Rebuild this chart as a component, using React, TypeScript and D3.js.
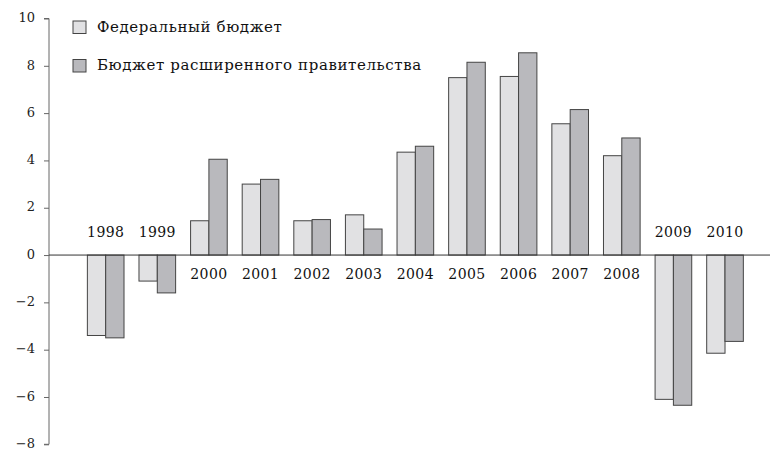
import React, { useEffect, useRef } from 'react';
import * as d3 from 'd3';

const years = ['1998', '1999', '2000', '2001', '2002', '2003', '2004', '2005', '2006', '2007', '2008', '2009', '2010'];
const federal = [-3.4, -1.1, 1.45, 3.0, 1.45, 1.7, 4.35, 7.5, 7.55, 5.55, 4.2, -6.1, -4.15];
const general = [-3.5, -1.6, 4.05, 3.2, 1.5, 1.1, 4.6, 8.15, 8.55, 6.15, 4.95, -6.35, -3.65];
const seriesNames = ['Федеральный бюджет', 'Бюджет расширенного правительства'];
const seriesColors = ['#e1e1e3', '#b9b9bd'];
const yTicks = [-8, -6, -4, -2, 0, 2, 4, 6, 8, 10];

const FONT = '"DejaVu Serif", serif';

const App: React.FC = () => {
  const svgRef = useRef<SVGSVGElement>(null);

  useEffect(() => {
    if (!svgRef.current) return;
    const svg = d3.select(svgRef.current);
    svg.selectAll('*').remove();

    const axisX = 49;
    const y = d3.scaleLinear().domain([-8, 10]).range([444.3, 18.5]);

    const x = d3.scaleBand<string>()
      .domain(years)
      .range([axisX, 770])
      .paddingInner(0.29)
      .paddingOuter(0.63)
      .align(0.59);

    const x1 = d3.scaleBand<number>()
      .domain([0, 1])
      .range([0, x.bandwidth()]);

    // y axis
    const yAxis = d3.axisLeft(y)
      .tickValues(yTicks)
      .tickSize(5)
      .tickPadding(9)
      .tickFormat((d: any) => (d < 0 ? '\u2212' + Math.abs(d) : String(d)));

    const ga = svg.append('g')
      .attr('transform', `translate(${axisX},0)`)
      .call(yAxis as any);
    ga.select('.domain').attr('stroke', '#666').attr('d', `M-5,${y(10)}H0V${y(-8)}H-5`);
    ga.selectAll('.tick line').attr('stroke', '#666');
    ga.selectAll('.tick text')
      .attr('fill', '#222')
      .attr('dy', '0.25em')
      .style('font-family', FONT)
      .style('font-size', '13px');

    // bars
    const groups = svg.append('g')
      .selectAll('g')
      .data(years)
      .join('g')
      .attr('transform', d => `translate(${x(d)},0)`);

    groups.selectAll('rect')
      .data((d, i) => [federal[i], general[i]].map((v, k) => ({ v, k })))
      .join('rect')
      .attr('x', d => x1(d.k)!)
      .attr('width', x1.bandwidth())
      .attr('y', d => y(Math.max(0, d.v)))
      .attr('height', d => Math.abs(y(d.v) - y(0)))
      .attr('fill', d => seriesColors[d.k])
      .attr('stroke', '#444')
      .attr('stroke-width', 1);

    // zero line
    svg.append('line')
      .attr('x1', axisX)
      .attr('x2', 770)
      .attr('y1', y(0))
      .attr('y2', y(0))
      .attr('stroke', '#333')
      .attr('stroke-width', 1);

    // year labels
    groups.append('text')
      .attr('x', x.bandwidth() / 2)
      .attr('y', (d, i) => (federal[i] < 0 ? y(0) - 18 : y(0) + 24))
      .attr('text-anchor', 'middle')
      .attr('fill', '#111')
      .style('font-family', FONT)
      .style('font-size', '14px')
      .style('letter-spacing', '0.4px')
      .text(d => d);

    // legend
    const legend = svg.append('g')
      .selectAll('g')
      .data(seriesNames)
      .join('g')
      .attr('transform', (d, i) => `translate(73,${21 + i * 38.5})`);

    legend.append('rect')
      .attr('width', 13)
      .attr('height', 12.5)
      .attr('fill', (d, i) => seriesColors[i])
      .attr('stroke', '#444');

    legend.append('text')
      .attr('x', 24)
      .attr('y', 10.5)
      .attr('fill', '#111')
      .style('font-family', FONT)
      .style('font-size', '15px')
      .style('letter-spacing', '0.6px')
      .text(d => d);
  }, []);

  return (
    <svg ref={svgRef} width={772} height={450}
      style={{ position: 'absolute', left: 0, top: 0, background: '#fff' }} />
  );
};

export default App;
